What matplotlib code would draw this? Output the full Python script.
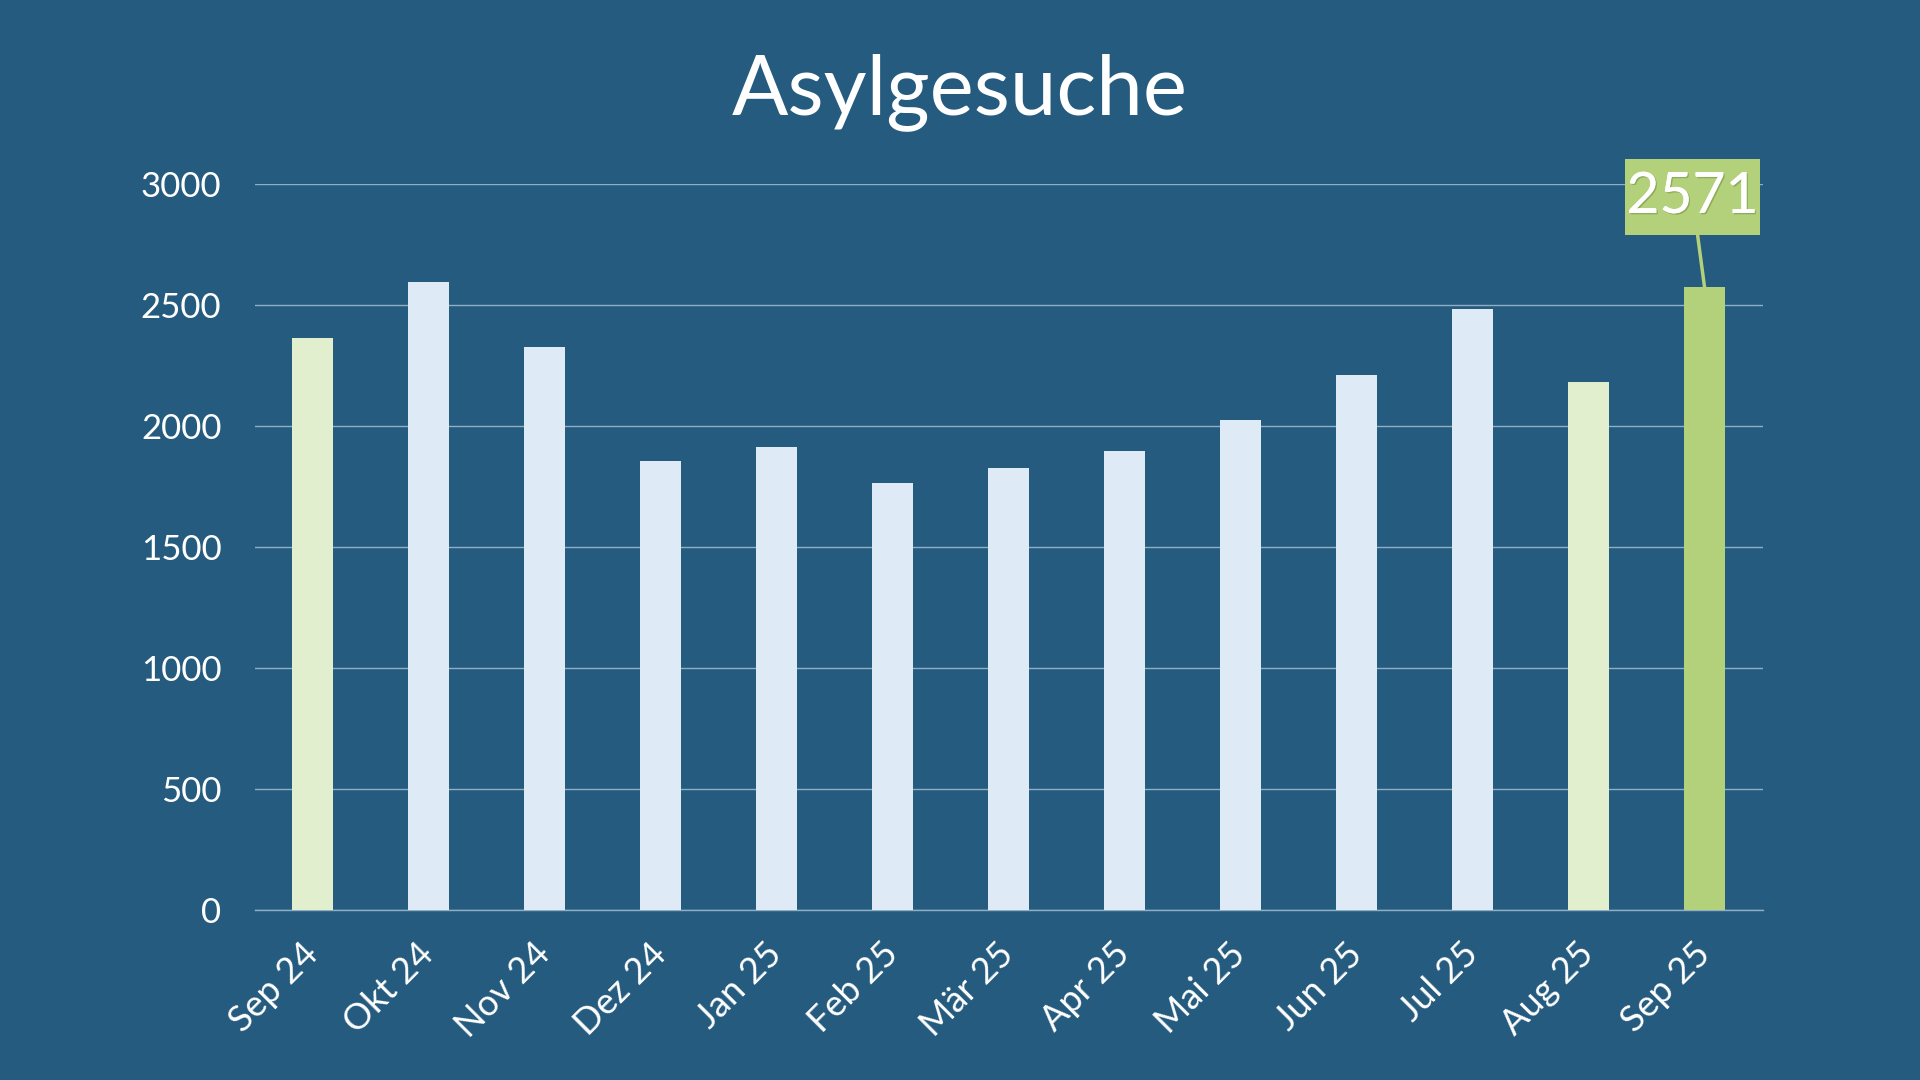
import matplotlib.pyplot as plt
import matplotlib.patheffects as pe
from matplotlib.path import Path

plt.rcParams['font.family'] = ['Lato', 'DejaVu Sans']

months = ['Sep 24', 'Okt 24', 'Nov 24', 'Dez 24', 'Jan 25', 'Feb 25', 'Mär 25',
          'Apr 25', 'Mai 25', 'Jun 25', 'Jul 25', 'Aug 25', 'Sep 25']
gesuche = [2362, 2595, 2324, 1856, 1911, 1763, 1826, 1894, 2024, 2210, 2482, 2182, 2571]
yticks = [0, 500, 1000, 1500, 2000, 2500, 3000]

bg = '#255b7e'
light = '#deebf7'
light_green = '#e2efcf'
green = '#b3d17a'
bar_colors = [light_green] + [light] * 10 + [light_green, green]


def label_box(x0, y0, width, height, mutation_size):
    # wider vertically than horizontally, like the reference label
    px = 0.03 * mutation_size
    py = 0.22 * mutation_size
    x0, y0 = x0 - px, y0 - py
    x1, y1 = x0 + width + 2 * px, y0 + height + 2 * py
    return Path([(x0, y0), (x1, y0), (x1, y1), (x0, y1), (x0, y0)], closed=True)


fig = plt.figure(figsize=(19.2, 10.8), dpi=100, facecolor=bg)
ax = fig.add_axes([0.1327, 0.1576, 0.7853, 0.6724], facecolor=bg)

x = range(len(months))
ax.bar(x, gesuche, width=0.35, color=bar_colors, zorder=3)

ax.set_xlim(-0.5, len(months) - 0.5)
ax.set_ylim(0, 3000)
ax.set_yticks(yticks)
ax.set_yticklabels([str(v) for v in yticks], fontsize=25, color='white')
ax.set_xticks(list(x))
ax.set_xticklabels(months, fontsize=26, color='white', rotation=45,
                   ha='right', va='center', rotation_mode='anchor')
ax.tick_params(axis='y', length=0, pad=24)
ax.tick_params(axis='x', length=0, pad=28)
ax.yaxis.grid(True, color='#8fadc4', lw=1, zorder=0)
for s in ['top', 'right', 'left']:
    ax.spines[s].set_visible(False)
ax.spines['bottom'].set_color('#8fadc4')
ax.spines['bottom'].set_linewidth(1)

# label on the last bar
ann = ax.annotate(str(gesuche[-1]), xy=(len(months) - 1, gesuche[-1]),
                  xytext=(-12, 90), textcoords='offset pixels',
                  ha='center', va='center', fontsize=41, color='white',
                  bbox=dict(boxstyle=label_box, fc=green, ec='none'),
                  arrowprops=dict(arrowstyle='-', color=green, lw=2.5,
                                  shrinkA=0, shrinkB=0),
                  zorder=5)
ann.set_path_effects([pe.withSimplePatchShadow(offset=(1, -1), shadow_rgbFace='#6a8a40', alpha=0.5),
                      pe.Normal()])

fig.text(0.5, 0.915, 'Asylgesuche', ha='center', va='center', fontsize=60, color='white')

plt.savefig('out.png', facecolor=bg)
